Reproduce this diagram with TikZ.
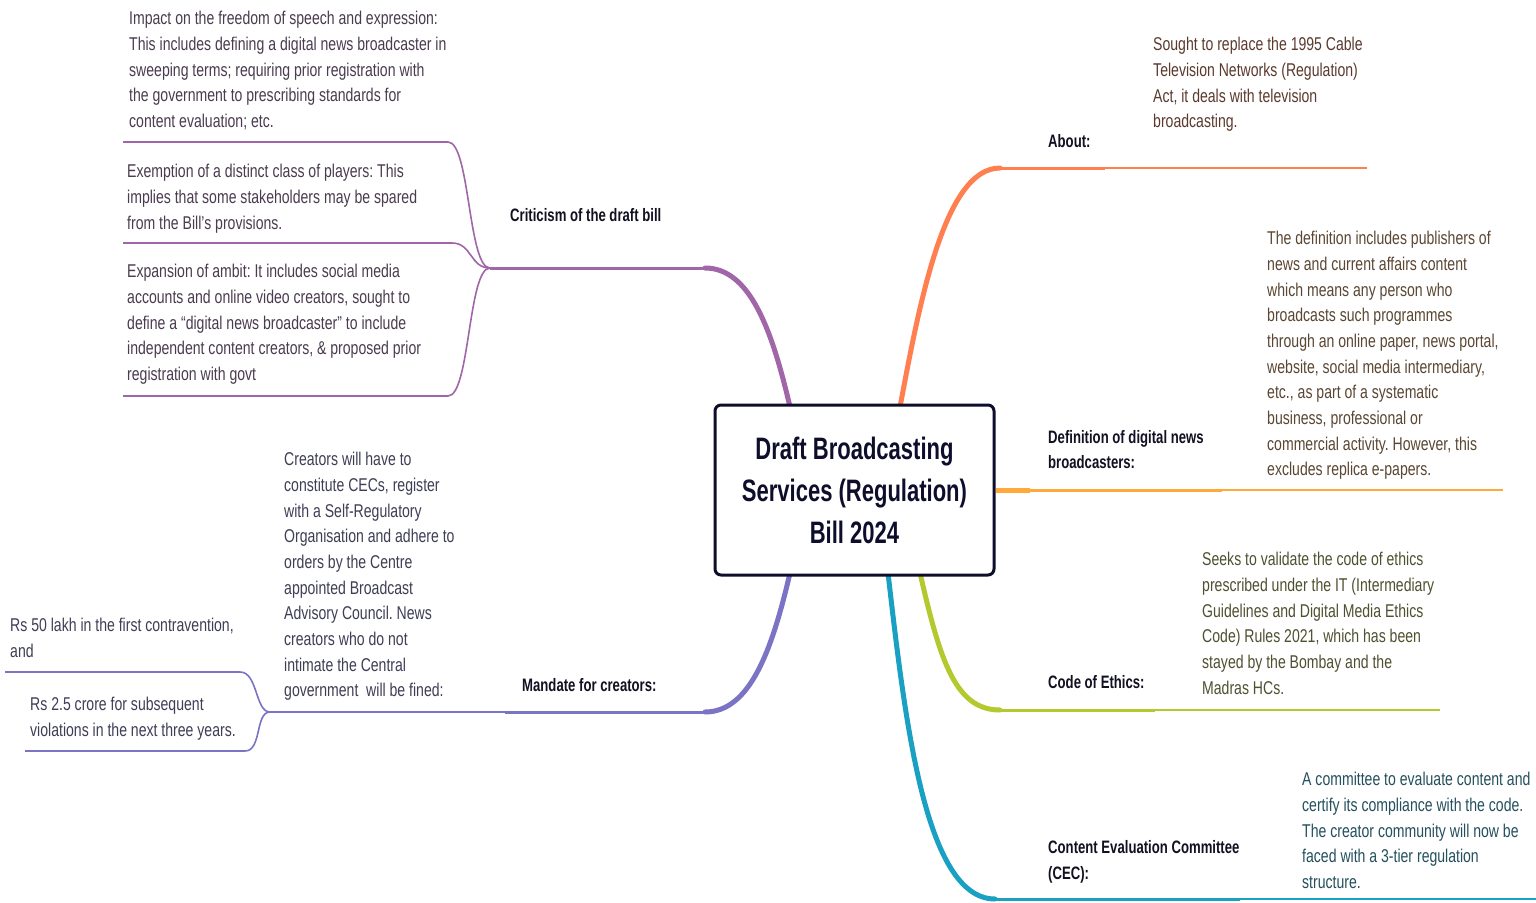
\documentclass[tikz,border=0pt]{standalone}
\usepackage{fontspec}
\setmainfont[FakeStretch=0.76]{Liberation Sans}
\newfontfamily\labfont[FakeStretch=0.73]{Liberation Sans}
\newfontfamily\titlefont[FakeStretch=0.71]{Liberation Sans}
\definecolor{critc}{HTML}{A066A8}
\definecolor{mandc}{HTML}{7B74C4}
\definecolor{aboutc}{HTML}{FF7F50}
\definecolor{defc}{HTML}{FFA93A}
\definecolor{codec}{HTML}{B3C92E}
\definecolor{cecc}{HTML}{1AA0C2}
\definecolor{boxc}{HTML}{0E0E2C}
\definecolor{labc}{HTML}{111122}
\definecolor{tcrit}{HTML}{4B3B4F}
\definecolor{tmand}{HTML}{3E3E55}
\definecolor{tabout}{HTML}{5B3A2E}
\definecolor{tdef}{HTML}{5A4632}
\definecolor{tcode}{HTML}{4F5030}
\definecolor{tcec}{HTML}{24505E}
\frenchspacing
\begin{document}
\begin{tikzpicture}[x=1pt,y=-1pt,
  leaf/.style={anchor=north west, inner sep=0pt, align=left, font=\fontsize{18.5}{25.7}\selectfont},
  lab/.style={anchor=west, inner sep=0pt, align=left, text=labc, font=\labfont\fontsize{18}{25.7}\selectfont\bfseries},
  thickb/.style={line width=5pt, line cap=round},
  midb/.style={line width=3pt},
  thinb/.style={line width=2pt},
  subb/.style={line width=1.6pt},
  centre/.style={draw=boxc, line width=3pt, rounded corners=6pt, fill=white, minimum width=279pt, minimum height=170pt,
  align=center, text=boxc, font=\titlefont\fontsize{31}{42}\selectfont\bfseries}]
\useasboundingbox (0,0) rectangle (1536,902);
\fill[white] (0,0) rectangle (1536,902);

% coordinates
\coordinate (ct1) at (790,407);
\coordinate (ct2) at (900,407);
\coordinate (cr) at (996,490);
\coordinate (cb1) at (790,573);
\coordinate (cb2) at (888,573);
\coordinate (cb3) at (920,573);

\coordinate (critk) at (705,268);
\coordinate (critj) at (490,268);
\coordinate (c1e) at (123,142);
\coordinate (c2e) at (123,243);
\coordinate (c3e) at (123,396);

\coordinate (mandk) at (705,712);
\coordinate (mandm) at (505,712);
\coordinate (mandj) at (270,712);
\coordinate (m1e) at (5,672);
\coordinate (m2e) at (25,751);

\coordinate (aboutk) at (1000,168);
\coordinate (aboutm) at (1105,168);
\coordinate (aboute) at (1367,168);
\coordinate (defk) at (1030,490);
\coordinate (defm) at (1222,490);
\coordinate (defe) at (1503,490);
\coordinate (codek) at (1000,710);
\coordinate (codem) at (1155,710);
\coordinate (codee) at (1440,710);
\coordinate (ceck) at (995,899);
\coordinate (cecm) at (1240,899);
\coordinate (cece) at (1536,899);

% branches
\draw[critc, thickb] (ct1) .. controls (772,330) and (750,268) .. (critk);
\draw[critc, midb] (critk) -- (critj);
\draw[critc, subb] (critj) .. controls (468,268) and (470,142) .. (448,142) -- (c1e);
\draw[critc, subb] (critj) .. controls (470,268) and (472,243) .. (452,243) -- (c2e);
\draw[critc, subb] (critj) .. controls (468,268) and (470,396) .. (448,396) -- (c3e);

\draw[mandc, thickb] (cb1) .. controls (772,650) and (750,712) .. (mandk);
\draw[mandc, midb] (mandk) -- (mandm);
\draw[mandc, thinb] (mandm) -- (mandj);
\draw[mandc, subb] (mandj) .. controls (255,712) and (258,672) .. (240,672) -- (m1e);
\draw[mandc, subb] (mandj) .. controls (255,712) and (262,751) .. (245,751) -- (m2e);

\draw[aboutc, thickb] (ct2) .. controls (920,300) and (945,168) .. (aboutk);
\draw[aboutc, midb] (aboutk) -- (aboutm);
\draw[aboutc, thinb] (aboutm) -- (aboute);

\draw[defc, line width=5pt] (cr) -- (defk);
\draw[defc, midb] (defk) -- (defm);
\draw[defc, thinb] (defm) -- (defe);

\draw[codec, thickb] (cb3) .. controls (940,660) and (955,710) .. (codek);
\draw[codec, midb] (codek) -- (codem);
\draw[codec, thinb] (codem) -- (codee);

\draw[cecc, thickb] (cb2) .. controls (905,720) and (925,899) .. (ceck);
\draw[cecc, midb] (ceck) -- (cecm);
\draw[cecc, thinb] (cecm) -- (cece);

% central node on top of the branch ends
\node[centre] (c) at (854.5,490) {Draft Broadcasting\\Services (Regulation)\\Bill 2024};

% branch labels
\node[lab] (lcrit) at (510,215) {Criticism of the draft bill};
\node[lab] (lmand) at (522,685) {Mandate for creators:};
\node[lab] (labout) at (1048,141) {About:};
\node[lab] (ldef) at (1048,449.5) {Definition of digital news\\broadcasters:};
\node[lab] (lcode) at (1048,682) {Code of Ethics:};
\node[lab] (lcec) at (1048,862) {Content Evaluation Committee\\(CEC):};

% leaves
\node[leaf, text=tcrit] (t1) at (129,11) {Impact on the freedom of speech and expression:\\This includes defining a digital news broadcaster in\\sweeping terms; requiring prior registration with\\the government to prescribing standards for\\content evaluation; etc.};
\node[leaf, text=tcrit] (t2) at (127,164) {Exemption of a distinct class of players: This\\implies that some stakeholders may be spared\\from the Bill’s provisions.};
\node[leaf, text=tcrit] (t3) at (127,264) {Expansion of ambit: It includes social media\\accounts and online video creators, sought to\\define a “digital news broadcaster” to include\\independent content creators, \& proposed prior\\registration with govt};
\node[leaf, text=tmand] (t4) at (284,452) {Creators will have to\\constitute CECs, register\\with a Self-Regulatory\\Organisation and adhere to\\orders by the Centre\\appointed Broadcast\\Advisory Council. News\\creators who do not\\intimate the Central\\government\ \ will be fined:};
\node[leaf, text=tmand] (t5) at (10,618) {Rs 50 lakh in the first contravention,\\and};
\node[leaf, text=tmand] (t6) at (30,697) {Rs 2.5 crore for subsequent\\violations in the next three years.};
\node[leaf, text=tabout] (t7) at (1153,37) {Sought to replace the 1995 Cable\\Television Networks (Regulation)\\Act, it deals with television\\broadcasting.};
\node[leaf, text=tdef] (t8) at (1267,231) {The definition includes publishers of\\news and current affairs content\\which means any person who\\broadcasts such programmes\\through an online paper, news portal,\\website, social media intermediary,\\etc., as part of a systematic\\business, professional or\\commercial activity. However, this\\excludes replica e-papers.};
\node[leaf, text=tcode] (t9) at (1202,552) {Seeks to validate the code of ethics\\prescribed under the IT (Intermediary\\Guidelines and Digital Media Ethics\\Code) Rules 2021, which has been\\stayed by the Bombay and the\\Madras HCs.};
\node[leaf, text=tcec] (t10) at (1302,772) {A committee to evaluate content and\\certify its compliance with the code.\\The creator community will now be\\faced with a 3-tier regulation\\structure.};
\end{tikzpicture}
\end{document}
